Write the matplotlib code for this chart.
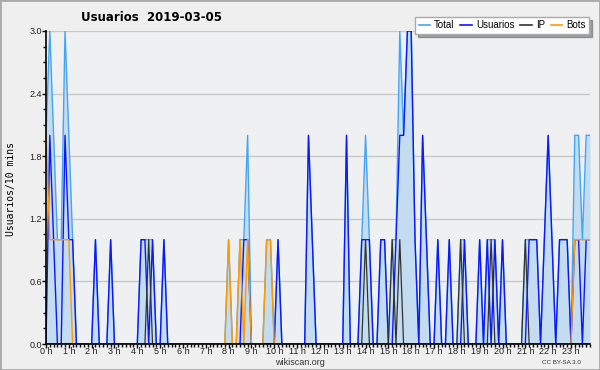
import numpy as np
import matplotlib.pyplot as plt
from matplotlib.patches import Rectangle
from matplotlib.lines import Line2D

# DATA SECTION (one value per 10-minute slot, 6 per hour) ----------------------
hours = ["%d h" % h for h in range(24)]

usuarios = [0,2,1,0,0,2,  1,1,0,0,0,0,  0,1,0,0,0,1,  0,0,0,0,0,0,
            0,1,1,0,1,0,  0,1,0,0,0,0,  0,0,0,0,0,0,  0,0,0,0,0,0,
            0,0,0,0,1,1,  0,0,0,0,0,0,  0,1,0,0,0,0,  0,0,0,2,1,0,
            0,0,0,0,0,0,  0,2,0,0,0,1,  1,1,0,0,1,1,  0,0,1,2,2,3,
            3,1,0,2,1,0,  0,1,0,0,1,0,  0,0,1,0,0,0,  1,0,1,0,1,0,
            1,0,0,0,0,0,  0,1,1,1,0,1,  2,1,0,1,1,1,  0,1,1,0,1,1]

ip       = [0,0,0,0,0,0,  0,0,0,0,0,0,  0,0,0,0,0,0,  0,0,0,0,0,0,
            0,0,0,1,0,0,  0,0,0,0,0,0,  0,0,0,0,0,0,  0,0,0,0,0,0,
            0,0,0,0,0,0,  0,0,0,0,0,0,  0,0,0,0,0,0,  0,0,0,0,0,0,
            0,0,0,0,0,0,  0,0,0,0,0,0,  1,0,0,0,0,0,  0,1,0,1,0,0,
            0,0,0,0,0,0,  0,0,0,0,0,0,  0,1,0,0,0,0,  0,0,0,1,0,0,
            0,0,0,0,0,0,  1,0,0,0,0,0,  0,0,0,0,0,0,  0,0,0,0,0,0]

bots     = [2,1,1,1,1,1,  1,0,0,0,0,0,  0,0,0,0,0,0,  0,0,0,0,0,0,
            0,0,0,0,0,0,  0,0,0,0,0,0,  0,0,0,0,0,0,  0,0,0,0,0,0,
            1,0,0,1,0,1,  0,0,0,0,1,1,  0,0,0,0,0,0,  0,0,0,0,0,0,
            0,0,0,0,0,0,  0,0,0,0,0,0,  0,0,0,0,0,0,  0,0,0,0,0,0,
            0,0,0,0,0,0,  0,0,0,0,0,0,  0,0,0,0,0,0,  0,0,0,0,0,0,
            0,0,0,0,0,0,  0,0,0,0,0,0,  0,0,0,0,0,0,  0,1,1,1,1,1]

total    = [2,3,2,1,1,3,  2,1,0,0,0,0,  0,1,0,0,0,1,  0,0,0,0,0,0,
            0,1,1,1,1,0,  0,1,0,0,0,0,  0,0,0,0,0,0,  0,0,0,0,0,0,
            1,0,0,1,1,2,  0,0,0,0,1,1,  0,1,0,0,0,0,  0,0,0,2,1,0,
            0,0,0,0,0,0,  0,2,0,0,0,1,  2,1,0,0,1,1,  0,1,1,3,2,3,
            3,1,0,2,1,0,  0,1,0,0,1,0,  0,1,1,0,0,0,  1,0,1,1,1,0,
            1,0,0,0,0,0,  1,1,1,1,0,1,  2,1,0,1,1,1,  0,2,2,1,2,2]

# STYLE SECTION ----------------------------------------------------------------
c_total = "#45a5f5"; c_fill = "#c4dcf0"
c_user = "#0d16ff"; c_ip = "#333333"; c_bots = "#ff9a00"
bg_fig = "#efefef"; bg_ax = "#eef0f2"
sans = ["Liberation Sans", "DejaVu Sans"]

x = np.arange(len(total))

fig = plt.figure(figsize=(6.0, 3.7), dpi=100, facecolor=bg_fig)
ax = fig.add_axes([46/600, 1-344/370, 544/600, 313/370], facecolor=bg_ax)

ax.fill_between(x, 0, total, color=c_fill, lw=0)
ax.plot(x, total, color=c_total, lw=1.0)
ax.plot(x, usuarios, color=c_user, lw=1.0)
ax.plot(x, ip, color=c_ip, lw=0.9)
ax.plot(x, bots, color=c_bots, lw=1.0)

ax.set_xlim(0, len(total)-1); ax.set_ylim(0, 3.0)
ax.set_yticks(np.arange(0, 3.01, 0.6))
ax.set_yticklabels(["%.1f" % v for v in np.arange(0, 3.01, 0.6)])
ax.set_yticks(np.arange(0, 3.01, 0.15), minor=True)
ax.set_xticks(np.arange(0, 144, 6))
ax.set_xticklabels(hours)
ax.set_xticks(np.arange(0, 144, 1), minor=True)
ax.grid(axis="y", color="#c8c8c8", lw=1)
ax.set_axisbelow(True)
for s in ["top", "right"]:
    ax.spines[s].set_visible(False)
ax.spines["left"].set_linewidth(1.2); ax.spines["bottom"].set_linewidth(1.2)
ax.tick_params(axis="both", which="major", labelsize=6.5, length=3, width=1, pad=0,
               labelcolor="#222222")
ax.tick_params(axis="x", which="major", pad=-0.5)
ax.tick_params(axis="both", which="minor", length=2.5, width=1)
for lab in ax.get_xticklabels() + ax.get_yticklabels():
    lab.set_family(sans)

fig.text(0.253, 0.952, "Usuarios  2019-03-05", fontsize=8.5, fontweight="bold",
         ha="center", va="center")
fig.text(0.018, 0.49, "Usuarios/10 mins", fontsize=7, family="DejaVu Sans Mono",
         rotation=90, ha="center", va="center")
fig.text(0.5, 0.019, "wikiscan.org", fontsize=6.5, family=sans, ha="center",
         va="center", color="#333333")
fig.text(0.935, 0.019, "CC BY-SA 3.0", fontsize=4.5, family=sans, ha="center",
         va="center", color="#333333")

handles = [Line2D([], [], color=c, lw=1.2) for c in [c_total, c_user, c_ip, c_bots]]
leg = fig.legend(handles, ["Total", "Usuarios", "IP", "Bots"], ncol=4,
                 loc="upper right", bbox_to_anchor=(0.982, 0.954),
                 prop={"family": sans, "size": 7},
                 frameon=True, fancybox=False, shadow={"color": "#555555"},
                 handlelength=1.2, handletextpad=0.4, columnspacing=0.6,
                 borderpad=0.35, borderaxespad=0)
leg.get_frame().set_edgecolor("#aaaaaa"); leg.get_frame().set_linewidth(1)

fig.patches.append(Rectangle((0, 0), 1, 1, transform=fig.transFigure,
                             fill=False, edgecolor="#aaaaaa", lw=2))

fig.savefig("out.png", dpi=100, facecolor=bg_fig)
